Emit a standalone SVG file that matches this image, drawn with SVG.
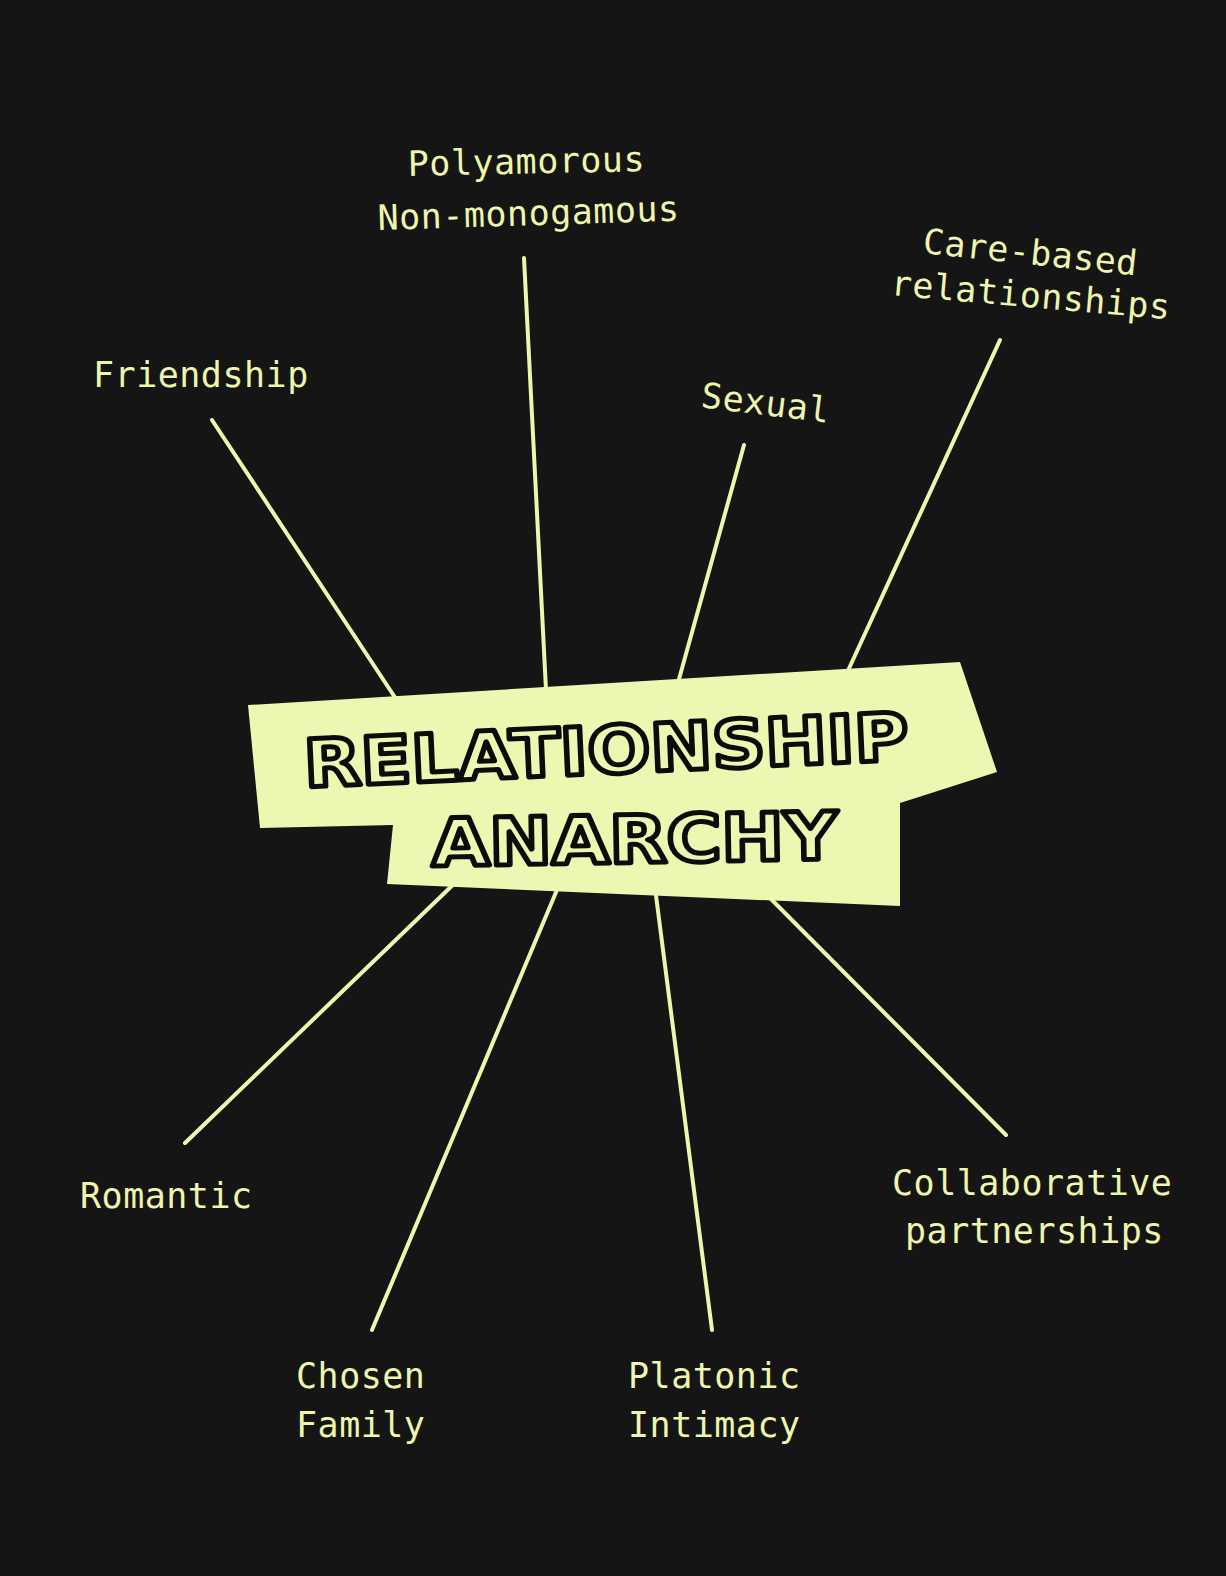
<svg xmlns="http://www.w3.org/2000/svg" width="1226" height="1576" viewBox="0 0 1226 1576">
<style>
.bg{fill:#151515}
.lbl{font-family:"DejaVu Sans Mono","Liberation Mono",monospace;font-size:35px;letter-spacing:0.5px;fill:#eef5ac}
.edge{stroke:#eef5ac;stroke-width:4;stroke-linecap:round;fill:none}
.box{fill:#eef7b2}
.title{font-family:"DejaVu Sans","Liberation Sans",sans-serif;font-weight:bold;font-size:66px;fill:#eef7b2;stroke:#0c0c0c;stroke-width:5;stroke-linejoin:round}
</style>
<rect class="bg" x="0" y="0" width="1226" height="1576"/>
<g id="connectors">
<line class="edge" x1="212" y1="420" x2="400" y2="705"/>
<line class="edge" x1="524" y1="258" x2="546" y2="690"/>
<line class="edge" x1="744" y1="445" x2="676" y2="690"/>
<line class="edge" x1="1000" y1="340" x2="846" y2="675"/>
<line class="edge" x1="185" y1="1143" x2="460" y2="878"/>
<line class="edge" x1="372" y1="1330" x2="562" y2="878"/>
<line class="edge" x1="712" y1="1330" x2="654" y2="880"/>
<line class="edge" x1="1006" y1="1135" x2="764" y2="892"/>
</g>
<g id="center">
<polygon class="box" points="248,705 960,662 997,772 900,803 900,906 387,884 393,825 260,828"/>
<text class="title" x="305" y="787" textLength="605" lengthAdjust="spacingAndGlyphs" transform="rotate(-2.6 305 787)">RELATIONSHIP</text>
<text class="title" x="432" y="866" textLength="406" lengthAdjust="spacingAndGlyphs" transform="rotate(-1 432 866)">ANARCHY</text>
</g>
<g id="polyamorous">
<text class="lbl" x="408" y="176" transform="rotate(-1.2 408 176)">Polyamorous</text>
<text class="lbl" x="378" y="230" transform="rotate(-1.8 378 230)">Non-monogamous</text>
</g>
<g id="care-based">
<text class="lbl" x="922" y="253" transform="rotate(6 922 253)">Care-based</text>
<text class="lbl" x="890" y="295" transform="rotate(5 890 295)">relationships</text>
</g>
<g id="friendship"><text class="lbl" x="93" y="387">Friendship</text></g>
<g id="sexual"><text class="lbl" x="700" y="407" transform="rotate(7 700 407)">Sexual</text></g>
<g id="romantic"><text class="lbl" x="80" y="1208">Romantic</text></g>
<g id="collaborative">
<text class="lbl" x="892" y="1195">Collaborative</text>
<text class="lbl" x="905" y="1243">partnerships</text>
</g>
<g id="chosen-family">
<text class="lbl" x="296" y="1388">Chosen</text>
<text class="lbl" x="296" y="1437">Family</text>
</g>
<g id="platonic">
<text class="lbl" x="628" y="1388">Platonic</text>
<text class="lbl" x="628" y="1437">Intimacy</text>
</g>
</svg>
